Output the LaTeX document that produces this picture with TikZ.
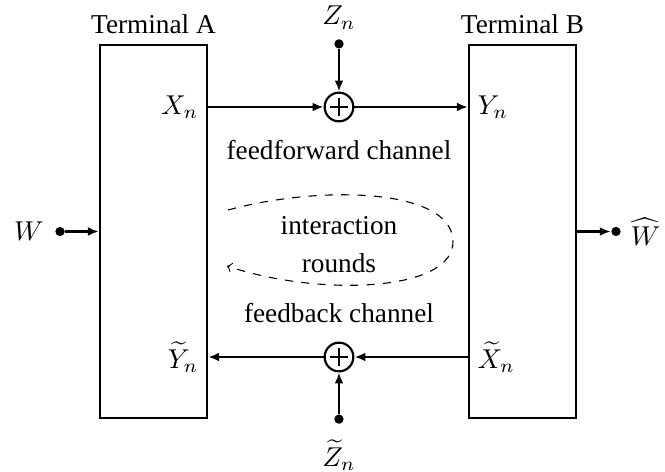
\documentclass[tikz,border=0pt]{standalone}
\usepackage{amsmath}
\usepackage{fontspec}
\setmainfont{Liberation Serif}
\usetikzlibrary{positioning,calc,arrows,arrows.meta}

\begin{document}
\begin{tikzpicture}[
    x=0.0129cm, y=-0.0129cm,
    terminal/.style={rectangle, draw, thick, minimum width=1.38cm, minimum height=4.81cm},
    adder/.style={circle, draw, thick, minimum size=0.37cm, inner sep=0pt,
        path picture={\draw[thick] ([yshift=0.12cm]path picture bounding box.center) -- ([yshift=-0.12cm]path picture bounding box.center)
            ([xshift=-0.12cm]path picture bounding box.center) -- ([xshift=0.12cm]path picture bounding box.center);}},
    dot/.style={circle, fill, inner sep=0pt, minimum size=0.12cm},
    arrow/.style={-{Latex[length=4pt,width=3.2pt]}, thick},
    loop/.style={->, >=to, dashed}
]
    \useasboundingbox (0,0) rectangle (665,472);

    \node[terminal] (termA) at (153.5,231.5) {};
    \node[terminal] (termB) at (522.5,231.5) {};
    \node[above=0pt of termA] (nameA) {Terminal A};
    \node[above=0pt of termB] (nameB) {Terminal B};

    \node[adder] (sumF) at (339,107) {};
    \node[adder] (sumB) at (339,357) {};

    \node[dot] (zdot) at (sumF |- termA.north) {};
    \node[above=0pt of zdot] (zlab) {$Z_n$};
    \node[dot] (ztdot) at (sumB |- termA.south) {};
    \node[below=0.08cm of ztdot] (ztlab) {$\widetilde{Z}_n$};

    \coordinate (aout) at (termA.east |- sumF);
    \coordinate (bin) at (termB.west |- sumF);
    \coordinate (bout) at (termB.west |- sumB);
    \coordinate (ain) at (termA.east |- sumB);
    \node[left] (xlab) at (aout) {$X_n$};
    \node[right] (ylab) at (bin) {$Y_n$};
    \node[right] (xtlab) at (bout) {$\widetilde{X}_n$};
    \node[left] (ytlab) at (ain) {$\widetilde{Y}_n$};

    \node[below=0.1cm of sumF] (fflab) {feedforward channel};
    \node[above=0.12cm of sumB] (fblab) {feedback channel};
    \node[align=center] (rounds) at (339,245) {interaction\\[2pt]rounds};

    \node[dot] (wdot) at (60,231.5) {};
    \node[left=0.02cm of wdot] (wlab) {$W$};
    \node[dot] (whdot) at (616,231.5) {};
    \node[right=0pt of whdot] (whlab) {$\widehat{W}$};

    \draw[arrow] (zdot) -- (sumF);
    \draw[arrow] (aout) -- (sumF);
    \draw[arrow] (sumF) -- (bin);
    \draw[arrow] (bout) -- (sumB);
    \draw[arrow] (sumB) -- (ain);
    \draw[arrow] (ztdot) -- (sumB);
    \draw[arrow] (wdot) -- (termA);
    \draw[arrow] (termB) -- (whdot);

    % interaction loop
    \draw[loop] (228,210) .. controls (320,185) and (450,188) .. (453,240)
        .. controls (456,292) and (320,297) .. (227,266);
\end{tikzpicture}
\end{document}
